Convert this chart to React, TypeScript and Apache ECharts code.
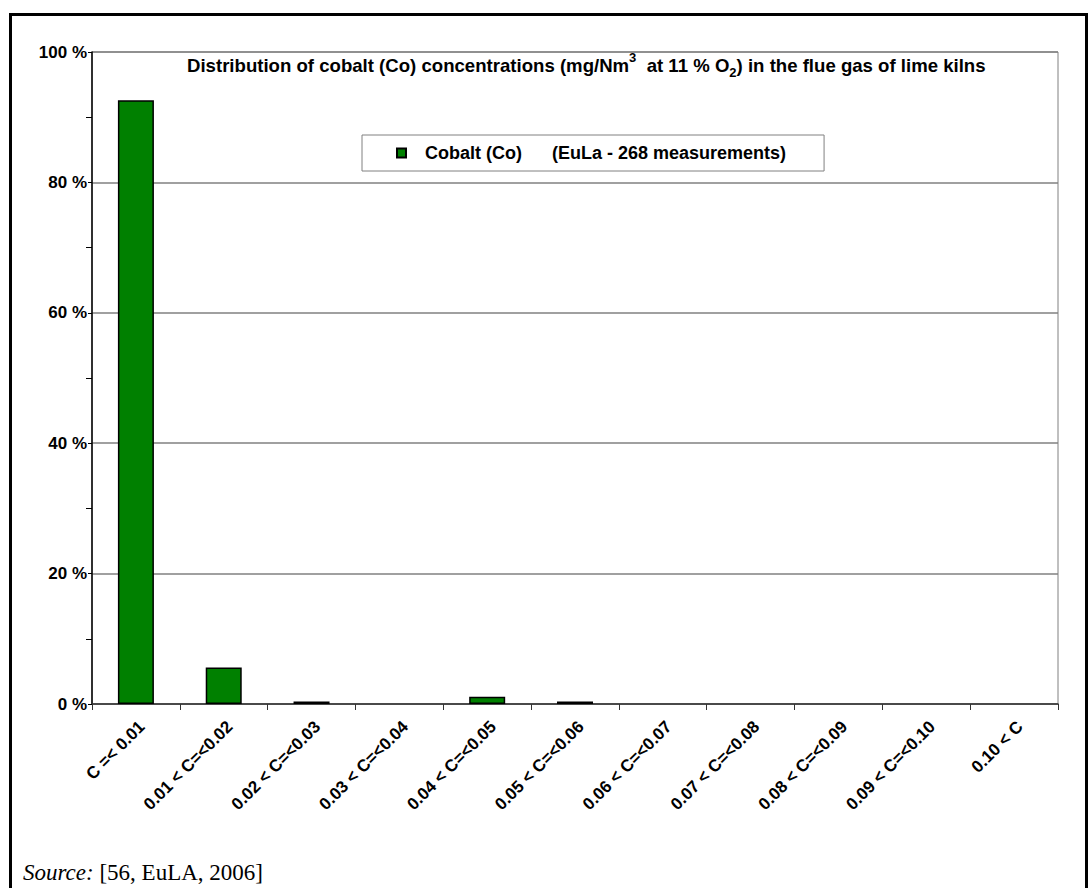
import React, { useEffect, useRef } from "react";
import * as echarts from "echarts";

const categories = [
  "C =< 0.01",
  "0.01 < C=<0.02",
  "0.02 < C=<0.03",
  "0.03 < C=<0.04",
  "0.04 < C=<0.05",
  "0.05 < C=<0.06",
  "0.06 < C=<0.07",
  "0.07 < C=<0.08",
  "0.08 < C=<0.09",
  "0.09 < C=<0.10",
  "0.10 < C",
];
const cobaltValues = [92.6, 5.6, 0.37, 0, 1.1, 0.37, 0, 0, 0, 0, 0];
const seriesName = "Cobalt (Co)";
const yTicks = [0, 20, 40, 60, 80, 100];

const FONT = 'Arial, "Liberation Sans", sans-serif';
const SERIF = '"Liberation Serif", "Times New Roman", serif';

export default function App() {
  const ref = useRef<HTMLDivElement>(null);
  useEffect(() => {
    if (!ref.current) return;
    const chart = echarts.init(ref.current, null, { renderer: "svg" });
    chart.setOption({
      animation: false,
      backgroundColor: "#fff",
      title: {
        left: 187,
        top: 51,
        padding: 0,
        text:
          "{a|Distribution of cobalt (Co) concentrations (mg/Nm}{sup|3}{a|  at 11 % O}{sub|2}{a|) in the flue gas of lime kilns}",
        textStyle: {
          rich: {
            a: { fontSize: 18.6, fontWeight: "bold", fontFamily: FONT, color: "#000", lineHeight: 28 },
            sup: { fontSize: 13, fontWeight: "bold", fontFamily: FONT, color: "#000", verticalAlign: "top", lineHeight: 14 },
            sub: { fontSize: 13, fontWeight: "bold", fontFamily: FONT, color: "#000", verticalAlign: "bottom", lineHeight: 14 },
          },
        },
      },
      legend: {
        left: 362,
        top: 135,
        padding: [9, 38, 9, 34],
        itemWidth: 9,
        itemHeight: 9,
        icon: "rect",
        borderColor: "#808080",
        borderWidth: 1,
        backgroundColor: "#fff",
        formatter: () => "{a|Cobalt (Co)}{b|(EuLa - 268 measurements)}",
        textStyle: {
          fontSize: 18,
          fontWeight: "bold",
          fontFamily: FONT,
          color: "#000",
          rich: {
            a: { fontSize: 18, fontWeight: "bold", fontFamily: FONT, color: "#000", padding: [0, 0, 0, 14] },
            b: { fontSize: 18, fontWeight: "bold", fontFamily: FONT, color: "#000", padding: [0, 0, 0, 30] },
          },
        },
      },
      grid: {
        left: 92,
        right: 30,
        top: 52,
        bottom: 184,
        show: true,
        borderColor: "#808080",
        borderWidth: 1,
        backgroundColor: "transparent",
      },
      xAxis: {
        type: "category",
        data: categories,
        boundaryGap: true,
        axisLine: { show: true, lineStyle: { color: "#333", width: 1.5 } },
        axisTick: { show: true, interval: 0, length: 6, lineStyle: { color: "#333" } },
        axisLabel: {
          interval: 0,
          rotate: 45,
          margin: 14,
          verticalAlign: "top",
          fontSize: 17,
          fontWeight: "bold",
          fontFamily: FONT,
          color: "#000",
        },
      },
      yAxis: {
        type: "value",
        min: yTicks[0],
        max: yTicks[yTicks.length - 1],
        interval: 20,
        axisLine: { show: true, lineStyle: { color: "#000", width: 1.5 } },
        axisTick: { show: true, length: 4, lineStyle: { color: "#000" } },
        minorTick: { show: true, splitNumber: 2, length: 6, lineStyle: { color: "#000" } },
        splitLine: { show: true, lineStyle: { color: "#808080", width: 1.5 } },
        axisLabel: {
          margin: 5,
          fontSize: 17,
          fontWeight: "bold",
          fontFamily: FONT,
          color: "#000",
          formatter: "{value} %",
        },
      },
      series: [
        {
          name: seriesName,
          type: "bar",
          data: cobaltValues.map((v) =>
            v === 0 ? { value: v, itemStyle: { borderWidth: 0 } } : v
          ),
          barWidth: "41%",
          itemStyle: { color: "#008000", borderColor: "#000", borderWidth: 1.5 },
        },
      ],
      graphic: [
        {
          type: "rect",
          shape: { x: 10.5, y: 14.5, width: 1076, height: 900 },
          style: { fill: "none", stroke: "#000", lineWidth: 3 },
          silent: true,
          z: 100,
        },
        {
          type: "text",
          x: 23,
          y: 884,
          style: {
            text: "{i|Source:} [56, EuLA, 2006]",
            fontSize: 23,
            fontFamily: SERIF,
            fill: "#000",
            verticalAlign: "bottom",
            rich: {
              i: { fontSize: 23, fontStyle: "italic", fontFamily: SERIF, color: "#000" },
            },
          },
        },
      ],
    });
    return () => chart.dispose();
  }, []);
  return (
    <div
      ref={ref}
      style={{ position: "absolute", left: 0, top: 0, width: 1088, height: 888 }}
    />
  );
}
